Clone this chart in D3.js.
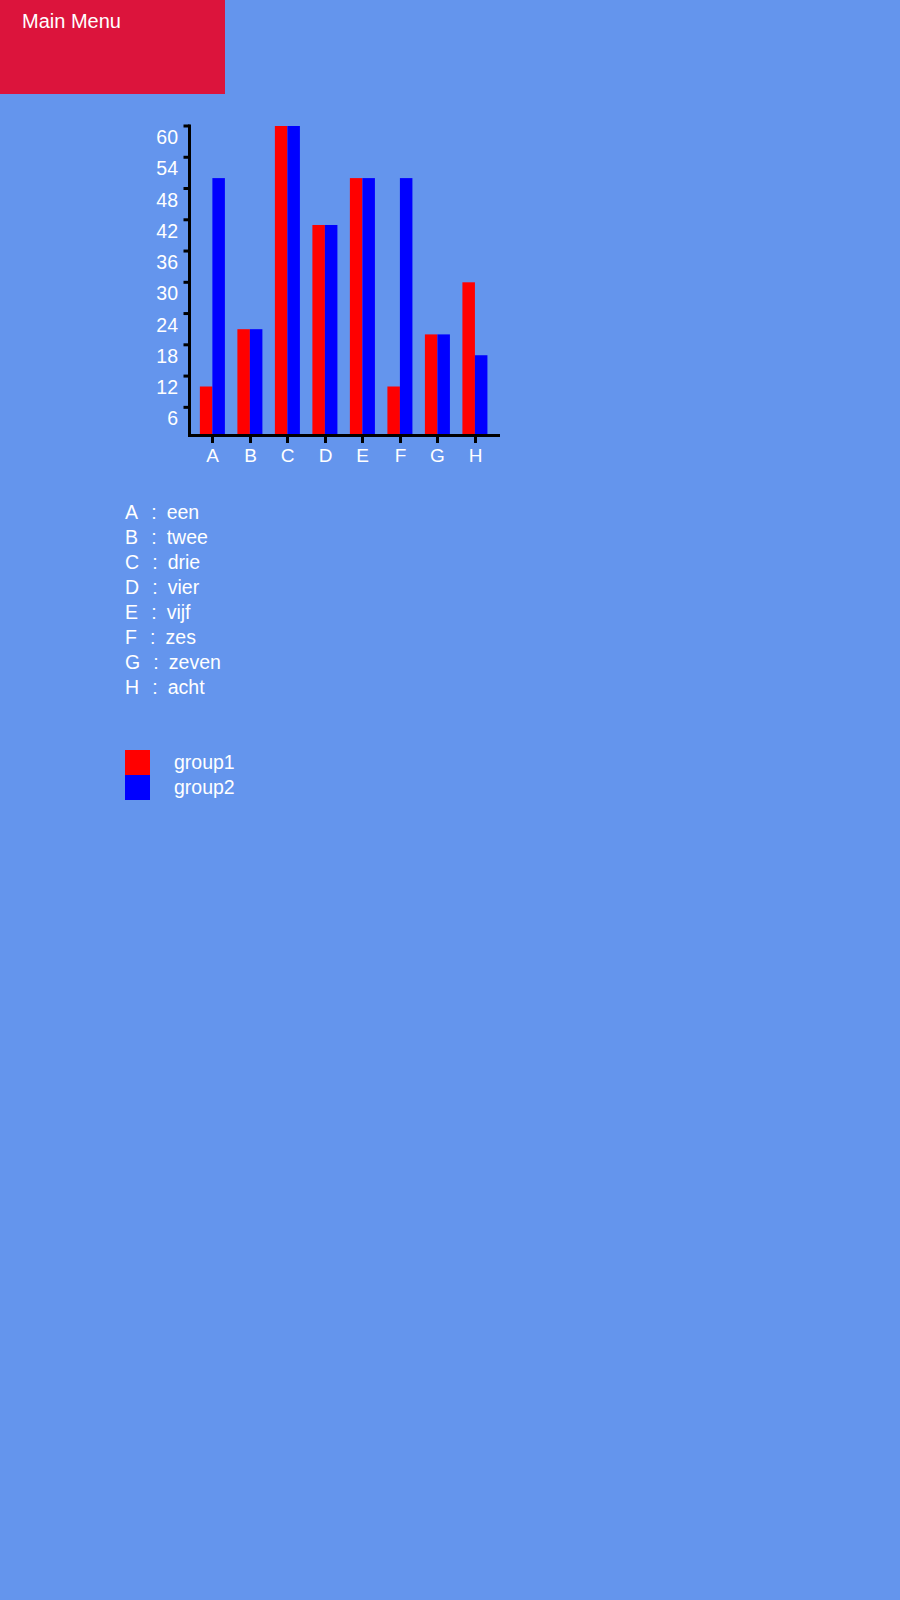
<!DOCTYPE html>
<html>
<head>
<meta charset="utf-8">
<script src="https://cdn.jsdelivr.net/npm/d3@7"></script>
<style>
  html, body { margin: 0; padding: 0; background: #6495ED; }
  svg { display: block; }
  text { font-family: "Liberation Sans", Arial, Helvetica, sans-serif; fill: #fff; }
</style>
</head>
<body>
<svg id="chart" width="900" height="1600"></svg>
<script>
const categories = ["A", "B", "C", "D", "E", "F", "G", "H"];
const names = ["een", "twee", "drie", "vier", "vijf", "zes", "zeven", "acht"];
const groups = ["group1", "group2"];
const group1 = [10, 21, 60, 41, 50, 10, 20, 30];
const group2 = [50, 21, 60, 41, 50, 50, 20, 16];
const yTicks = [6, 12, 18, 24, 30, 36, 42, 48, 54, 60];
const colors = ["#ff0000", "#0000ff"];

const svg = d3.select("#chart");

// Menu block
svg.append("rect").attr("x", 0).attr("y", 0).attr("width", 225).attr("height", 94).attr("fill", "#DC143C");
svg.append("text").attr("x", 22).attr("y", 28).attr("font-size", 20).text("Main Menu");

// Chart
const baseY = 435.5;
const x = d3.scaleBand().domain(categories).range([189, 498.3]).paddingInner(0.333).paddingOuter(0.29);
const xg = d3.scaleBand().domain(groups).range([0, x.bandwidth()]);
const y = d3.scaleLinear().domain([0, 60]).range([438.6, 126]);
const series = [group1, group2];

const g = svg.append("g");
categories.forEach((c, i) => {
  groups.forEach((gr, j) => {
    const v = series[j][i];
    g.append("rect")
      .attr("x", x(c) + xg(gr))
      .attr("y", y(v))
      .attr("width", xg.bandwidth())
      .attr("height", baseY - y(v))
      .attr("fill", colors[j]);
  });
});

// Y axis
const yAxis = g.append("g");
yAxis.append("line").attr("x1", 189.5).attr("x2", 189.5).attr("y1", y(60) - 1.5).attr("y2", baseY + 1.5)
  .attr("stroke", "#000").attr("stroke-width", 3);
yTicks.forEach(t => {
  yAxis.append("line").attr("x1", 183.5).attr("x2", 189.5).attr("y1", y(t)).attr("y2", y(t))
    .attr("stroke", "#000").attr("stroke-width", 3);
  yAxis.append("text").attr("x", 178).attr("y", y(t) + 18).attr("text-anchor", "end")
    .attr("font-size", 19.5).text(t);
});

// X axis
const xAxis = g.append("g");
xAxis.append("line").attr("x1", 188).attr("x2", 500).attr("y1", baseY).attr("y2", baseY)
  .attr("stroke", "#000").attr("stroke-width", 3);
categories.forEach(c => {
  const cx = Math.round(x(c) + x.bandwidth() / 2) + 0.5;
  xAxis.append("line").attr("x1", cx).attr("x2", cx).attr("y1", baseY).attr("y2", baseY + 7.5)
    .attr("stroke", "#000").attr("stroke-width", 3);
  xAxis.append("text").attr("x", cx).attr("y", 461.5).attr("text-anchor", "middle")
    .attr("font-size", 19).text(c);
});

// Category list
const list = svg.append("g");
categories.forEach((c, i) => {
  const t = list.append("text").attr("x", 125).attr("y", 519 + i * 25).attr("font-size", 19.5);
  t.append("tspan").text(c);
  t.append("tspan").attr("dx", 13.2).text(":");
  t.append("tspan").attr("dx", 10).text(names[i]);
});

// Legend
const legend = svg.append("g");
groups.forEach((gr, j) => {
  legend.append("rect").attr("x", 125).attr("y", 750 + j * 25).attr("width", 25).attr("height", 25).attr("fill", colors[j]);
  legend.append("text").attr("x", 174).attr("y", 769 + j * 25).attr("font-size", 19.5).text(gr);
});
</script>
</body>
</html>
